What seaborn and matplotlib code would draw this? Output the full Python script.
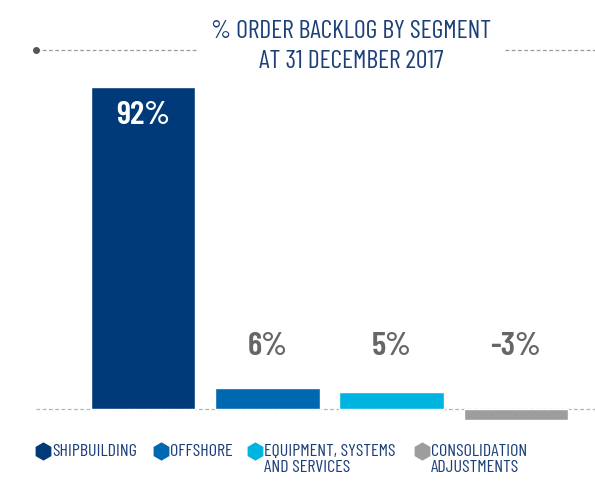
import matplotlib
matplotlib.use("Agg")
import matplotlib.pyplot as plt
from matplotlib.lines import Line2D
import seaborn as sns
import pandas as pd

# data
segments = ["SHIPBUILDING", "OFFSHORE", "EQUIPMENT, SYSTEMS\nAND SERVICES",
            "CONSOLIDATION\nADJUSTMENTS"]
values = [92, 6, 5, -3]
colors = ["#003a78", "#0067b1", "#00b4e1", "#9d9d9d"]
title_lines = ["% ORDER BACKLOG BY SEGMENT", "AT 31 DECEMBER 2017"]

sns.set_theme(style="white")
plt.rcParams["font.family"] = ["Barlow Condensed", "Roboto Condensed", "DejaVu Sans"]

W, H = 595, 487
fig = plt.figure(figsize=(W / 100, H / 100), dpi=100)
ax = fig.add_axes([36 / W, (H - 425) / H, (W - 36) / W, (425 - 80) / H])

df = pd.DataFrame({"segment": segments, "value": values})
sns.barplot(data=df, x="segment", y="value", hue="segment", palette=colors,
            legend=False, width=0.84, ax=ax, saturation=1)

ax.set_xlim(-0.861, 3.636)
ax.set_ylim(-4.57, 94)
ax.axhline(0, color="#b5b5b5", lw=0.9, ls=(0, (3, 2)), zorder=0)
ax.set_axis_off()

# value labels
for i, v in enumerate(values):
    if v > 50:
        ax.text(i, v - 8, f"{v}%", ha="center", va="center", color="white",
                fontsize=24, fontweight="semibold")
    else:
        ax.text(i, 17.8, f"{v}%", ha="center", va="center",
                color="#666666", fontsize=24, fontweight="semibold")

title_col = "#1c3f78"
fig.text(351 / W, 1 - 32 / H, title_lines[0], ha="center", va="center",
         color=title_col, fontsize=18.5)
fig.text(351 / W, 1 - 62 / H, title_lines[1], ha="center", va="center",
         color=title_col, fontsize=18.5)

# dotted rule next to title
fig.add_artist(Line2D([36 / W, 197 / W], [1 - 50 / H] * 2, transform=fig.transFigure,
                      color="#9a9a9a", lw=0.9, ls=(0, (3, 2))))
fig.add_artist(Line2D([505 / W, 1], [1 - 50 / H] * 2, transform=fig.transFigure,
                      color="#9a9a9a", lw=0.9, ls=(0, (3, 2))))
fig.add_artist(Line2D([36 / W], [1 - 50 / H], transform=fig.transFigure,
                      marker="o", ms=4, color="#555555"))

# legend with hexagon markers
leg_marker_x = [43, 161, 255, 422]
for mx, lab, c in zip(leg_marker_x, segments, colors):
    fig.add_artist(Line2D([mx / W], [1 - 451 / H], transform=fig.transFigure,
                          marker="h", ms=12, color=c, lw=0))
    fig.text((mx + 9) / W, 1 - 444 / H, lab, ha="left", va="top",
             color=title_col, fontsize=13, linespacing=1.1)

fig.savefig("out.png", dpi=100)
